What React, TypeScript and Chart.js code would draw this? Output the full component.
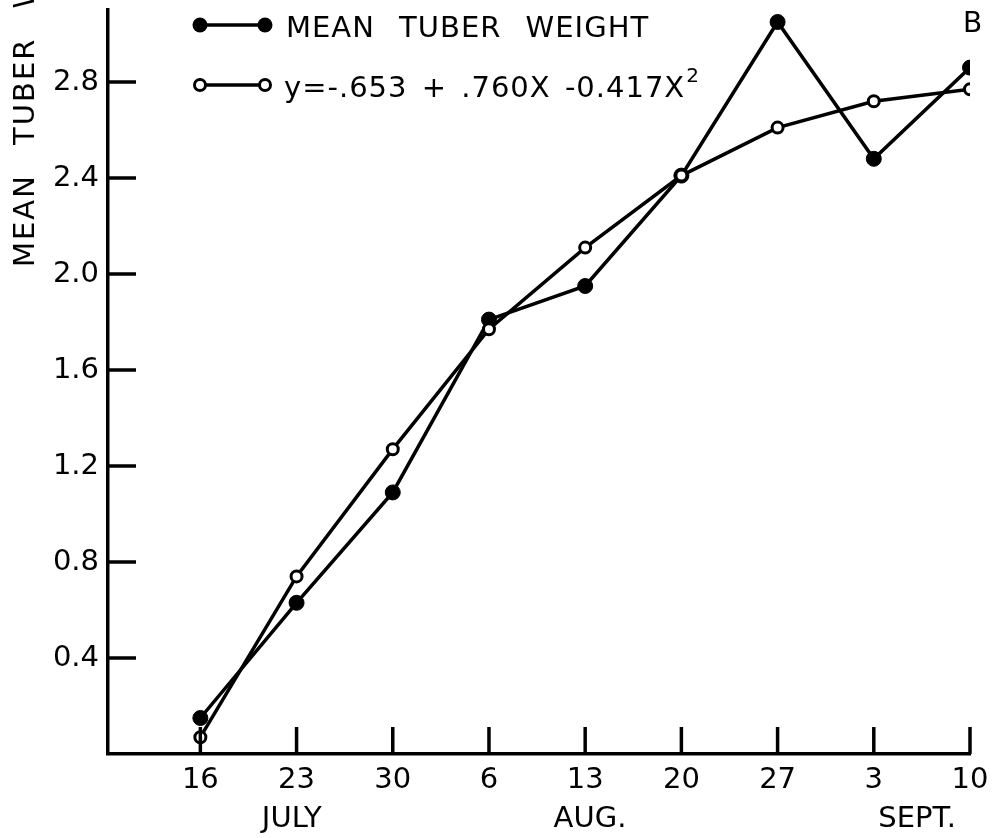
import React, { useEffect, useRef } from 'react';
import { Chart, registerables } from 'chart.js';

Chart.register(...registerables);

const dateLabels = ['16', '23', '30', '6', '13', '20', '27', '3', '10'];
const monthLabels = ['JULY', 'AUG.', 'SEPT.'];
const monthPositions = [0.95, 4.05, 7.45];
const meanWeight = [0.15, 0.63, 1.09, 1.81, 1.95, 2.41, 3.05, 2.48, 2.86];
const fittedWeight = [0.07, 0.74, 1.27, 1.77, 2.11, 2.41, 2.61, 2.72, 2.77];
const yTickValues = [0.4, 0.8, 1.2, 1.6, 2.0, 2.4, 2.8];
const seriesNames = ['MEAN TUBER WEIGHT', 'y=-.653 + .760X -0.417X'];
const superscript = '2';
const yTitle = 'MEAN TUBER WEIGHT';
const panelLetter = 'B';

const FONT = '"DejaVu Sans", "Liberation Sans", Arial, sans-serif';

const decorPlugin = {
  id: 'decor',
  afterDraw(chart: any) {
    const ctx = chart.ctx as CanvasRenderingContext2D;
    const c: any = ctx;
    const xs = chart.scales.x;
    const ys = chart.scales.y;
    const area = chart.chartArea;
    ctx.save();
    ctx.strokeStyle = '#000';
    ctx.fillStyle = '#000';
    ctx.lineWidth = 3.5;
    // inward tick marks
    yTickValues.forEach((v) => {
      const y = ys.getPixelForValue(v);
      ctx.beginPath();
      ctx.moveTo(area.left, y);
      ctx.lineTo(area.left + 28, y);
      ctx.stroke();
    });
    dateLabels.forEach((_, i) => {
      const x = xs.getPixelForValue(i);
      ctx.beginPath();
      ctx.moveTo(x, area.bottom);
      ctx.lineTo(x, area.bottom - 27);
      ctx.stroke();
    });
    // month labels
    ctx.font = `29px ${FONT}`;
    ctx.textAlign = 'center';
    ctx.textBaseline = 'alphabetic';
    monthLabels.forEach((m, i) => {
      ctx.fillText(m, xs.getPixelForValue(monthPositions[i]), 827);
    });
    // legend
    const lx0 = 200, lx1 = 265;
    const rows = [25, 85];
    rows.forEach((ly, i) => {
      ctx.lineWidth = 3.5;
      ctx.beginPath();
      ctx.moveTo(lx0, ly);
      ctx.lineTo(lx1, ly);
      ctx.stroke();
      [lx0, lx1].forEach((px) => {
        ctx.beginPath();
        if (i === 0) {
          ctx.arc(px, ly, 7.5, 0, Math.PI * 2);
          ctx.fillStyle = '#000';
          ctx.fill();
        } else {
          ctx.lineWidth = 3;
          ctx.arc(px, ly, 5.5, 0, Math.PI * 2);
          ctx.fillStyle = '#fff';
          ctx.fill();
          ctx.stroke();
        }
      });
      ctx.fillStyle = '#000';
      ctx.textAlign = 'left';
      ctx.font = `29px ${FONT}`;
      c.letterSpacing = '1px';
      c.wordSpacing = i === 0 ? '14px' : '4px';
      const tx = i === 0 ? 286 : 284;
      ctx.fillText(seriesNames[i], tx, ly + 12);
      if (i === 1) {
        const w = ctx.measureText(seriesNames[i]).width;
        ctx.font = `20px ${FONT}`;
        c.wordSpacing = '0px';
        ctx.fillText(superscript, tx + w + 1, ly - 3);
      }
      c.letterSpacing = '0px';
      c.wordSpacing = '0px';
    });
    // y title (rotated, runs off top)
    ctx.save();
    ctx.font = `29px ${FONT}`;
    ctx.translate(34, 267);
    ctx.rotate(-Math.PI / 2);
    ctx.textAlign = 'left';
    c.letterSpacing = '2px';
    c.wordSpacing = '18px';
    ctx.fillText(yTitle, 0, 0);
    ctx.restore();
    // panel letter
    ctx.font = `28px ${FONT}`;
    ctx.textAlign = 'left';
    ctx.fillText(panelLetter, 963, 32);
    ctx.restore();
  },
};

export default function App() {
  const ref = useRef<HTMLCanvasElement | null>(null);
  useEffect(() => {
    if (!ref.current) return;
    const chart = new Chart(ref.current, {
      type: 'line',
      data: {
        datasets: [
          {
            label: seriesNames[0],
            data: meanWeight.map((v, i) => ({ x: i, y: v })),
            borderColor: '#000',
            borderWidth: 3.5,
            backgroundColor: '#000',
            pointBackgroundColor: '#000',
            pointBorderColor: '#000',
            pointBorderWidth: 1,
            pointRadius: 7.5,
            tension: 0,
            order: 1,
          },
          {
            label: seriesNames[1],
            data: fittedWeight.map((v, i) => ({ x: i, y: v })),
            borderColor: '#000',
            borderWidth: 3.5,
            backgroundColor: '#fff',
            pointBackgroundColor: '#fff',
            pointBorderColor: '#000',
            pointBorderWidth: 3,
            pointRadius: 5.5,
            tension: 0,
            order: 0,
          },
        ],
      },
      options: {
        animation: false,
        responsive: false,
        maintainAspectRatio: false,
        layout: { padding: { top: 10, right: 22, left: 0, bottom: 0 } },
        plugins: { legend: { display: false }, tooltip: { enabled: false } },
        scales: {
          x: {
            type: 'linear',
            min: -0.96,
            max: 8,
            afterBuildTicks: (s: any) => {
              s.ticks = dateLabels.map((_, i) => ({ value: i }));
            },
            afterFit: (s: any) => {
              s.height = 84;
              s.paddingLeft = 0;
              s.paddingRight = 0;
            },
            grid: { display: false, drawTicks: false },
            border: { display: true, color: '#000', width: 3.5 },
            ticks: {
              autoSkip: false,
              maxRotation: 0,
              padding: 9,
              color: '#000',
              font: { family: FONT, size: 29 },
              callback: (v: any) => dateLabels[v as number] ?? '',
            },
          },
          y: {
            type: 'linear',
            min: 0,
            max: 3.1,
            afterBuildTicks: (s: any) => {
              s.ticks = yTickValues.map((v) => ({ value: v }));
            },
            afterFit: (s: any) => {
              s.width = 108;
              s.paddingTop = 0;
              s.paddingBottom = 0;
            },
            grid: { display: false, drawTicks: false },
            border: { display: true, color: '#000', width: 3.5 },
            ticks: {
              padding: 9,
              color: '#000',
              font: { family: FONT, size: 29 },
              callback: (v: any) => Number(v).toFixed(1),
            },
          },
        },
      },
      plugins: [decorPlugin],
    });
    return () => chart.destroy();
  }, []);
  return (
    <div style={{ position: 'fixed', left: 0, top: 0, width: 992, height: 838, background: '#fff' }}>
      <canvas ref={ref} width={992} height={838} style={{ width: 992, height: 838 }} />
    </div>
  );
}
